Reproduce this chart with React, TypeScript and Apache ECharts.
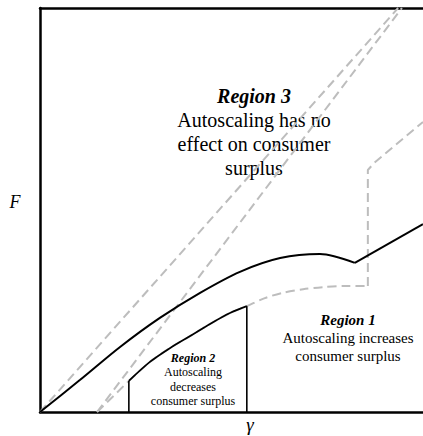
import React, { useEffect, useRef } from "react";
import * as echarts from "echarts";

// γ (x) and F (y) values, axes run 0..100
const mainGamma = [0, 10.4, 20.9, 31.3, 41.8, 52.2, 62.7, 73.1, 82.2];
const mainF = [0, 7.9, 16.1, 23.3, 29.5, 34.7, 38.1, 39.1, 36.9];
const mainTailGamma = [82.2, 100];
const mainTailF = [36.9, 46.5];

const r2LeftGamma = [23.2, 23.2];
const r2LeftF = [0, 7.7];
const r2CurveGamma = [23.2, 28.7, 33.9, 39.2, 44.4, 49.6, 54.0];
const r2CurveF = [7.7, 12.4, 15.8, 18.8, 21.8, 24.5, 26.2];
const r2RightGamma = [54.0, 54.0];
const r2RightF = [26.2, 0];

const dashAGamma = [0, 93.5];
const dashAF = [0, 100];
const dashBGamma = [14.9, 94.5];
const dashBF = [0, 100];

const lowStartGamma = [14.9, 23.2];
const lowStartF = [0, 7.7];
const lowCurveGamma = [23.2, 28.7, 33.9, 39.2, 44.4, 49.6, 54.0, 58.7, 63.4, 68.7, 73.9, 79.6, 85.6];
const lowCurveF = [7.7, 12.4, 15.8, 18.8, 21.8, 24.5, 26.2, 28.2, 29.5, 30.4, 30.9, 31.2, 31.2];
const lowTailGamma = [85.6, 85.6, 87.2, 100];
const lowTailF = [31.2, 59.9, 61.6, 71.8];

const region3Lines = ["Autoscaling has no", "effect on consumer", "surplus"];
const region1Lines = ["Autoscaling increases", "consumer surplus"];
const region2Lines = ["Autoscaling", "decreases", "consumer surplus"];

const zip = (xs: number[], ys: number[]) => xs.map((x, i) => [x, ys[i]]);

const FAM = '"Liberation Serif"';

export default function App() {
  const ref = useRef<HTMLDivElement>(null);
  useEffect(() => {
    if (!ref.current) return;
    const chart = echarts.init(ref.current, undefined, { renderer: "svg" });
    const canvas = document.createElement("canvas");
    const ctx = canvas.getContext("2d");
    const measure = (t: string, font: string) => {
      if (!ctx) return t.length * 8;
      ctx.font = font;
      return ctx.measureText(t).width;
    };
    const dash = (data: number[][], smooth: number | boolean = false) => ({
      type: "line",
      data,
      smooth,
      symbol: "none",
      lineStyle: { color: "#bdbdbd", width: 2, type: [9, 5] },
      z: 1,
    });
    const solid = (data: number[][], smooth: number | boolean = false, width = 2) => ({
      type: "line",
      data,
      smooth,
      symbol: "none",
      lineStyle: { color: "#000", width },
      z: 3,
    });
    // centred text without align options: left edge computed from measured width
    const text = (cx: number, cy: number, t: string, size: number, prefix = "") => {
      const font = `${prefix}${size}px ${FAM}`;
      const w = measure(t, font);
      return {
        type: "text",
        x: cx - w / 2,
        y: cy - size / 2,
        style: { text: t, font, fill: "#000" },
      };
    };
    const BI = "italic bold ";
    const IT = "italic ";
    const graphics: any[] = [
      text(254, 96, "Region 3", 20, BI),
      ...region3Lines.map((l, i) => text(254, 120 + i * 24, l, 20)),
      text(348, 320, "Region 1", 15, BI),
      ...region1Lines.map((l, i) => text(348, 338 + i * 18, l, 15)),
      text(193, 358, "Region 2", 12, BI),
      ...region2Lines.map((l, i) => text(193, 372 + i * 14.5, l, 12)),
      text(15, 202, "F", 18, IT),
      text(250, 424, "γ", 19, IT),
    ];
    chart.setOption({
      animation: false,
      grid: { left: 40, right: 0, top: 8, bottom: 24 },
      xAxis: [
        {
          type: "value",
          min: 0,
          max: 100,
          position: "bottom",
          axisLine: { show: true, lineStyle: { color: "#000", width: 2.5 } },
          axisTick: { show: false },
          axisLabel: { show: false },
          splitLine: { show: false },
        },
        {
          type: "value",
          min: 0,
          max: 100,
          position: "top",
          axisLine: { show: true, onZero: false, lineStyle: { color: "#000", width: 2.5 } },
          axisTick: { show: false },
          axisLabel: { show: false },
          splitLine: { show: false },
        },
      ],
      yAxis: {
        type: "value",
        min: 0,
        max: 100,
        axisLine: { show: true, lineStyle: { color: "#000", width: 2.5 } },
        axisTick: { show: false },
        axisLabel: { show: false },
        splitLine: { show: false },
      },
      graphic: graphics,
      series: [
        dash(zip(dashAGamma, dashAF)),
        dash(zip(dashBGamma, dashBF)),
        dash(zip(lowStartGamma, lowStartF)),
        dash(zip(lowCurveGamma, lowCurveF), 0.3),
        dash(zip(lowTailGamma, lowTailF)),
        solid(zip(mainGamma, mainF), 0.3, 2),
        solid(zip(mainTailGamma, mainTailF), false, 2),
        solid(zip(r2LeftGamma, r2LeftF), false, 1.6),
        solid(zip(r2CurveGamma, r2CurveF), 0.3, 1.8),
        solid(zip(r2RightGamma, r2RightF), false, 1.6),
      ],
    });
    return () => chart.dispose();
  }, []);
  return (
    <div
      ref={ref}
      style={{ position: "absolute", left: 0, top: 0, width: 423, height: 436, background: "#fff" }}
    />
  );
}
